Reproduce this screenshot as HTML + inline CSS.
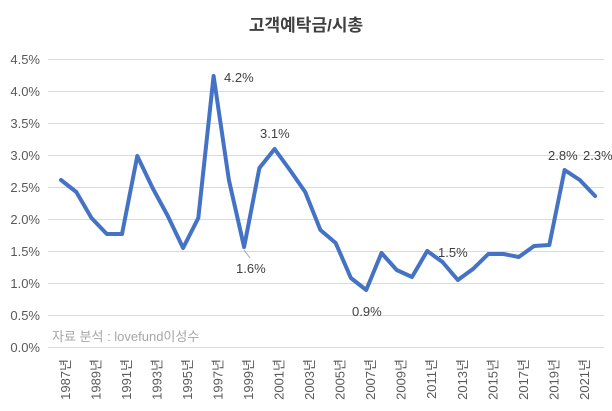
<!DOCTYPE html>
<html><head><meta charset="utf-8"><style>
html,body{margin:0;padding:0;background:#fff}
svg{display:block;font-family:"Liberation Sans","Noto Sans CJK KR",sans-serif}
</style></head><body>
<svg width="612" height="411" viewBox="0 0 612 411" xmlns="http://www.w3.org/2000/svg">
<rect width="612" height="411" fill="#fff"/>
<text x="306" y="31" text-anchor="middle" font-size="17" font-weight="bold" fill="#404040">고객예탁금/시총</text>
<g stroke="#d9d9d9" stroke-width="1">
<line x1="48" x2="604" y1="59.5" y2="59.5"/><line x1="48" x2="604" y1="91.5" y2="91.5"/>
<line x1="48" x2="604" y1="123.5" y2="123.5"/><line x1="48" x2="604" y1="155.5" y2="155.5"/>
<line x1="48" x2="604" y1="187.5" y2="187.5"/><line x1="48" x2="604" y1="219.5" y2="219.5"/>
<line x1="48" x2="604" y1="251.5" y2="251.5"/><line x1="48" x2="604" y1="283.5" y2="283.5"/>
<line x1="48" x2="604" y1="315.5" y2="315.5"/><line x1="48" x2="604" y1="347.5" y2="347.5"/>
</g>
<g font-size="13" fill="#595959" text-anchor="end">
<text x="40" y="64">4.5%</text><text x="40" y="96">4.0%</text><text x="40" y="128">3.5%</text>
<text x="40" y="160">3.0%</text><text x="40" y="192">2.5%</text><text x="40" y="224">2.0%</text>
<text x="40" y="256">1.5%</text><text x="40" y="288">1.0%</text><text x="40" y="320">0.5%</text>
<text x="40" y="352">0.0%</text>
</g>
<text x="52" y="341" font-size="13" fill="#a6a6a6">자료 분석 : lovefund이성수</text>
<polyline fill="none" stroke="#4472c4" stroke-width="4" stroke-linejoin="round" stroke-linecap="round" points="
61,180 76.3,192 91.5,218 106.8,234 122,234 137.3,156 152.6,188 167.8,216 183.1,248 198.3,218 213.6,76 228.9,180 244.1,247 259.4,168 274.6,149 289.9,170 305.2,192 320.4,230 335.7,243 350.9,278 366.2,290 381.5,253 396.7,270 412,277 427.2,251 442.5,262 457.8,280 473,269 488.3,254 503.5,254 518.8,257 534.1,246 549.3,245 564.6,170 579.8,180 595.1,196"/>
<g font-size="13" fill="#404040">
<text x="224" y="82">4.2%</text><text x="260" y="138">3.1%</text>
<text x="236" y="273">1.6%</text><text x="352" y="316">0.9%</text>
<text x="438" y="257">1.5%</text><text x="548" y="160">2.8%</text>
<text x="583" y="160">2.3%</text>
</g>
<line x1="244" y1="250" x2="250" y2="258" stroke="#a6a6a6" stroke-width="1"/>
<g font-size="13" fill="#595959" text-anchor="end">
<text transform="translate(70,359) rotate(-90)">1987년</text>
<text transform="translate(100.5,359) rotate(-90)">1989년</text>
<text transform="translate(131,359) rotate(-90)">1991년</text>
<text transform="translate(161.6,359) rotate(-90)">1993년</text>
<text transform="translate(192.1,359) rotate(-90)">1995년</text>
<text transform="translate(222.6,359) rotate(-90)">1997년</text>
<text transform="translate(253.1,359) rotate(-90)">1999년</text>
<text transform="translate(283.6,359) rotate(-90)">2001년</text>
<text transform="translate(314.2,359) rotate(-90)">2003년</text>
<text transform="translate(344.7,359) rotate(-90)">2005년</text>
<text transform="translate(375.2,359) rotate(-90)">2007년</text>
<text transform="translate(405.7,359) rotate(-90)">2009년</text>
<text transform="translate(436.2,359) rotate(-90)">2011년</text>
<text transform="translate(466.8,359) rotate(-90)">2013년</text>
<text transform="translate(497.3,359) rotate(-90)">2015년</text>
<text transform="translate(527.8,359) rotate(-90)">2017년</text>
<text transform="translate(558.3,359) rotate(-90)">2019년</text>
<text transform="translate(588.8,359) rotate(-90)">2021년</text>
</g>
</svg>
</body></html>
